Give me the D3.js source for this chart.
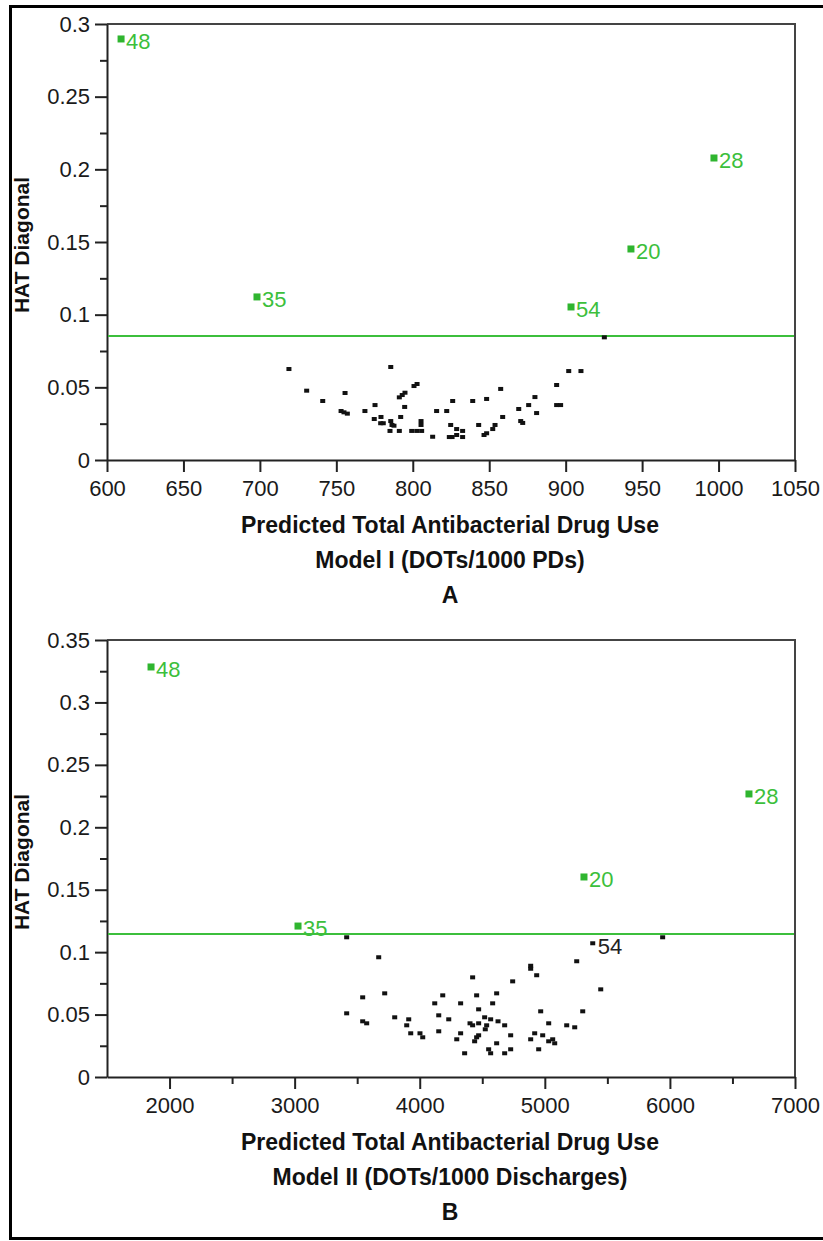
<html>
<head>
<script src="https://d3js.org/d3.v7.min.js"></script>
<style>
  body { margin: 0; background: #fff; }
  svg text { font-family: "Liberation Sans", Arial, sans-serif; }
</style>
</head>
<body>
<svg id="fig" width="823" height="1241"></svg>
<script>
// ---- panel A data (Model I) ----
var aX = [719.0, 785.6, 730.6, 755.7, 741.1, 802.8, 800.8, 794.9, 793.1, 791.2, 794.7, 815.6, 753.1, 755.0,
  757.2, 768.7, 775.3, 792.1, 774.8, 779.2, 779.0, 780.7, 785.6, 786.4, 787.7, 805.4, 805.4, 785.1, 791.2,
  799.3, 802.6, 805.8, 813.0, 925.3, 902.0, 910.0, 894.1, 857.5, 848.3, 839.2, 826.1, 822.2, 879.9, 875.8,
  869.3, 894.1, 896.7, 881.0, 858.8, 870.6, 871.9, 853.8, 852.3, 848.3, 846.6, 843.1, 824.8, 828.7, 832.6,
  828.7, 832.6, 823.9, 825.7];
var aY = [0.0626, 0.0640, 0.0477, 0.0461, 0.0406, 0.0523, 0.0509, 0.0463, 0.0447, 0.0431, 0.0365, 0.0337, 0.0337, 0.0328,
  0.0319, 0.0337, 0.0378, 0.0296, 0.0282, 0.0296, 0.0253, 0.0253, 0.0268, 0.0241, 0.0236, 0.0268, 0.0241, 0.0200, 0.0200,
  0.0200, 0.0200, 0.0200, 0.0160, 0.0844, 0.0612, 0.0612, 0.0516, 0.0489, 0.0420, 0.0406, 0.0406, 0.0337, 0.0433, 0.0378,
  0.0351, 0.0378, 0.0378, 0.0323, 0.0296, 0.0268, 0.0255, 0.0241, 0.0213, 0.0184, 0.0172, 0.0241, 0.0241, 0.0213, 0.0200,
  0.0172, 0.0158, 0.0158, 0.0158];
var aHiX = [609.2, 698.1, 903.5, 942.7, 997.0];
var aHiY = [0.2897, 0.1122, 0.1053, 0.1452, 0.2078];
var aHiLabel = ["48", "35", "54", "20", "28"];
var aCutoff = 0.0853;
var aXTicks = [600, 650, 700, 750, 800, 850, 900, 950, 1000, 1050];
var aYTicks = [0, 0.05, 0.1, 0.15, 0.2, 0.25, 0.3];

// ---- panel B data (Model II) ----
var bX = [3416, 3672, 4423, 3544, 3720, 4184, 4455, 4615, 4120, 4327, 4583, 4471, 3416, 4152, 3800, 3912, 4232,
  4519, 4567, 3544, 3576, 3896, 4402, 4423, 4471, 4535, 4524, 4626, 3928, 4002, 4024, 4152, 4327, 4296, 4471,
  4455, 4439, 4615, 4359, 4551, 4567, 5942, 5255, 4887, 4887, 4935, 4743, 5447, 4967, 5303, 4679, 5031,
  5175, 5239, 4727, 4919, 4983, 4887, 5063, 5031, 5079, 4727, 4679, 4951];
var bY = [0.1119, 0.0959, 0.0798, 0.0638, 0.0670, 0.0654, 0.0654, 0.0670, 0.0590, 0.0590, 0.0590, 0.0542, 0.0510,
  0.0494, 0.0478, 0.0462, 0.0462, 0.0478, 0.0462, 0.0446, 0.0430, 0.0414, 0.0430, 0.0414, 0.0430, 0.0414, 0.0382,
  0.0446, 0.0350, 0.0350, 0.0318, 0.0366, 0.0350, 0.0302, 0.0334, 0.0318, 0.0286, 0.0270, 0.0190, 0.0222, 0.0190,
  0.1119, 0.0927, 0.0891, 0.0867, 0.0815, 0.0766, 0.0702, 0.0526, 0.0526, 0.0414, 0.0430, 0.0414, 0.0398,
  0.0334, 0.0350, 0.0334, 0.0302, 0.0302, 0.0286, 0.0270, 0.0222, 0.0190, 0.0222];
var bHiX = [1852, 3027, 5313, 6632];
var bHiY = [0.3284, 0.1209, 0.1602, 0.2267];
var bHiLabel = ["48", "35", "20", "28"];
var bPlainLabelX = [5383];
var bPlainLabelY = [0.1071];
var bPlainLabel = ["54"];
var bCutoff = 0.1145;
var bXTicks = [2000, 3000, 4000, 5000, 6000, 7000];
var bXMinor = [2500, 3500, 4500, 5500, 6500];
var bYTicks = [0, 0.05, 0.1, 0.15, 0.2, 0.25, 0.3, 0.35];

var svg = d3.select("#fig");
var green = "#2fb52f";
var greenText = "#3cbf3c";

// outer frame (right edge runs off the picture)
svg.append("path")
  .attr("d", "M830,6.5 H10.5 V1238.5 H830")
  .attr("fill", "none")
  .attr("stroke", "#000")
  .attr("stroke-width", 3);

function drawPanel(p) {
  var x = d3.scaleLinear().domain(p.xDomain).range([107, 795]);
  var y = d3.scaleLinear().domain(p.yDomain).range([p.bottom, p.top]);
  var g = svg.append("g");

  // frame top / right
  g.append("path")
    .attr("d", "M107," + p.top + " H795 V" + p.bottom)
    .attr("fill", "none")
    .attr("stroke", "#444")
    .attr("stroke-width", 2);

  // minor y ticks
  var yMinor = [];
  for (var i = 0; i < p.yTicks.length - 1; i++) yMinor.push((p.yTicks[i] + p.yTicks[i + 1]) / 2);
  g.append("g").attr("transform", "translate(107,0)")
    .call(d3.axisLeft(y).tickValues(yMinor).tickSize(7).tickFormat(""))
    .call(function(s) { s.select(".domain").remove(); });

  g.append("g").attr("transform", "translate(107,0)")
    .call(d3.axisLeft(y).tickValues(p.yTicks).tickSize(12).tickSizeOuter(0).tickPadding(5)
      .tickFormat(function(d) { return d3.format("")(+d.toFixed(2)); }));

  if (p.xMinor) {
    g.append("g").attr("transform", "translate(0," + p.bottom + ")")
      .call(d3.axisBottom(x).tickValues(p.xMinor).tickSize(7).tickFormat(""))
      .call(function(s) { s.select(".domain").remove(); });
  }
  g.append("g").attr("transform", "translate(0," + p.bottom + ")")
    .call(d3.axisBottom(x).tickValues(p.xTicks).tickSize(12).tickSizeOuter(0).tickPadding(8)
      .tickFormat(d3.format("")));

  g.selectAll(".tick line").attr("stroke", "#222").attr("stroke-width", 2);
  g.selectAll(".domain").attr("stroke", "#222").attr("stroke-width", 2);
  g.selectAll(".tick text").attr("font-size", 22).attr("fill", "#1a1a1a")
    .attr("font-family", "Liberation Sans, Arial, sans-serif");

  // cutoff line
  g.append("line")
    .attr("x1", 108).attr("x2", 794)
    .attr("y1", y(p.cutoff)).attr("y2", y(p.cutoff))
    .attr("stroke", "#3cbf3c").attr("stroke-width", 2);

  // ordinary points
  g.selectAll(".pt").data(d3.range(p.xs.length)).enter().append("rect")
    .attr("x", function(i) { return x(p.xs[i]) - 2.5; })
    .attr("y", function(i) { return y(p.ys[i]) - 2; })
    .attr("width", 5).attr("height", 4)
    .attr("fill", "#111");

  // plain labelled points
  (p.plainX || []).forEach(function(v, i) {
    g.append("rect").attr("x", x(v) - 2.5).attr("y", y(p.plainY[i]) - 2)
      .attr("width", 5).attr("height", 4).attr("fill", "#111");
    g.append("text").attr("x", x(v) + 5).attr("y", y(p.plainY[i]) + 4.5)
      .attr("dominant-baseline", "middle")
      .attr("font-size", 22).attr("fill", "#222").text(p.plainLabel[i]);
  });

  // high leverage points
  p.hiX.forEach(function(v, i) {
    g.append("rect").attr("x", x(v) - 3.5).attr("y", y(p.hiY[i]) - 3.5)
      .attr("width", 7).attr("height", 7).attr("fill", green);
    g.append("text").attr("x", x(v) + 5).attr("y", y(p.hiY[i]) + 4.5)
      .attr("dominant-baseline", "middle")
      .attr("font-size", 22).attr("fill", greenText).text(p.hiLabel[i]);
  });

  // y title
  svg.append("text")
    .attr("transform", "translate(29," + p.yTitleY + ") rotate(-90)")
    .attr("text-anchor", "middle")
    .attr("font-size", 21).attr("font-weight", "bold").attr("fill", "#111")
    .text("HAT Diagonal");

  // x title lines
  p.xTitle.forEach(function(t, i) {
    svg.append("text")
      .attr("x", 450).attr("y", p.bottom + 73 + i * 35)
      .attr("text-anchor", "middle")
      .attr("font-size", 23).attr("font-weight", "bold").attr("fill", "#111")
      .text(t);
  });
}

drawPanel({
  xDomain: [600, 1050], yDomain: [0, 0.3], top: 24, bottom: 460,
  xTicks: aXTicks, yTicks: aYTicks, cutoff: aCutoff,
  xs: aX, ys: aY, hiX: aHiX, hiY: aHiY, hiLabel: aHiLabel,
  yTitleY: 245,
  xTitle: ["Predicted Total Antibacterial Drug Use", "Model I (DOTs/1000 PDs)", "A"]
});

drawPanel({
  xDomain: [1500, 7000], yDomain: [0, 0.35], top: 640, bottom: 1077,
  xTicks: bXTicks, xMinor: bXMinor, yTicks: bYTicks, cutoff: bCutoff,
  xs: bX, ys: bY, hiX: bHiX, hiY: bHiY, hiLabel: bHiLabel,
  plainX: bPlainLabelX, plainY: bPlainLabelY, plainLabel: bPlainLabel,
  yTitleY: 862,
  xTitle: ["Predicted Total Antibacterial Drug Use", "Model II (DOTs/1000 Discharges)", "B"]
});
</script>
</body>
</html>
